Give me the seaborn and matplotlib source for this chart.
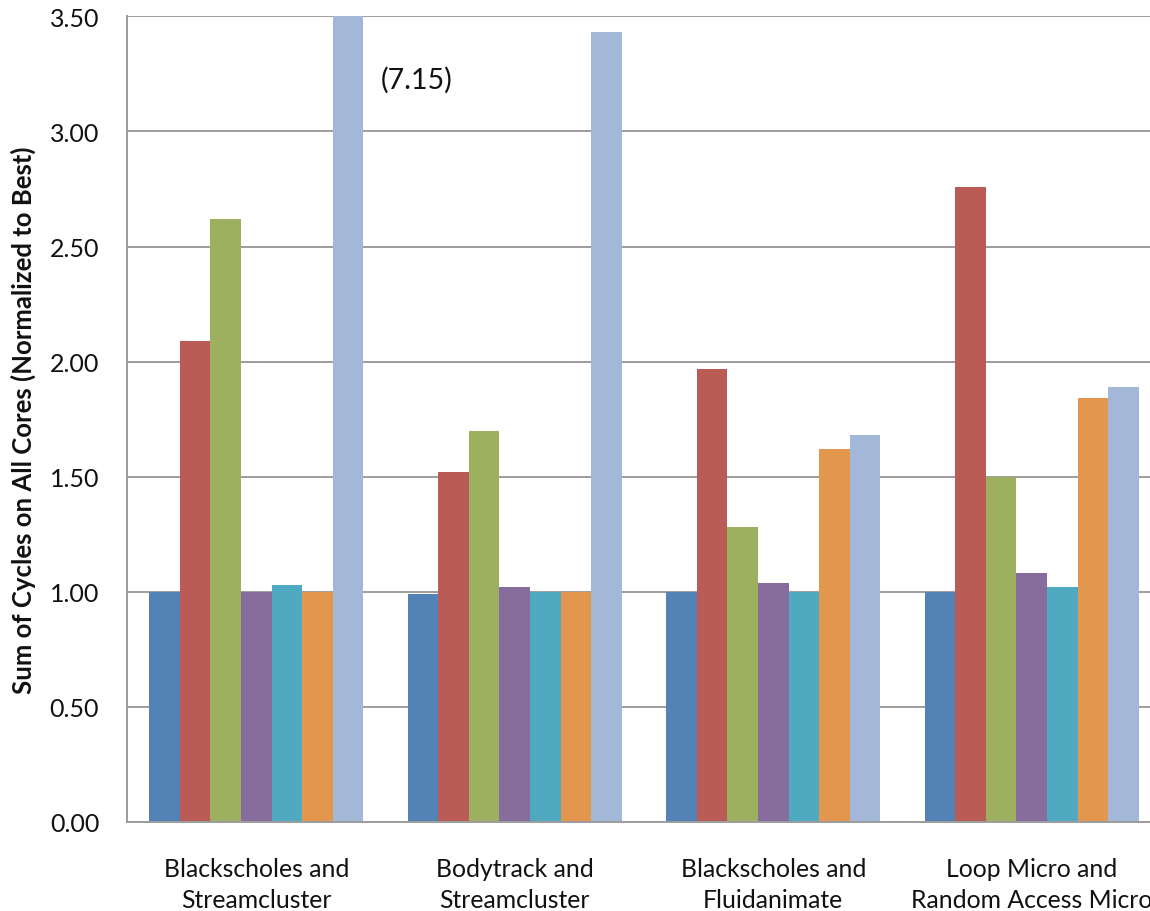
import numpy as np
import pandas as pd
import matplotlib
matplotlib.use("Agg")
import matplotlib.pyplot as plt
from matplotlib.ticker import FixedLocator, FormatStrFormatter
import seaborn as sns

# Workload pairs on the x axis
workloads = [
    "Blackscholes and\nStreamcluster",
    "Bodytrack and\nStreamcluster",
    "Blackscholes and\nFluidanimate",
    "Loop Micro and\nRandom Access Micro",
]

# Normalized cycle sums for each scheduling policy (one list per policy)
policy_1 = [1.00, 0.99, 1.00, 1.00]
policy_2 = [2.09, 1.52, 1.97, 2.76]
policy_3 = [2.62, 1.70, 1.28, 1.50]
policy_4 = [1.00, 1.02, 1.04, 1.08]
policy_5 = [1.03, 1.00, 1.00, 1.02]
policy_6 = [1.00, 1.00, 1.62, 1.84]
policy_7 = [7.15, 3.43, 1.68, 1.89]

policies = [policy_1, policy_2, policy_3, policy_4, policy_5, policy_6, policy_7]
policy_names = [f"policy_{i + 1}" for i in range(len(policies))]
colors = ["#5383B6", "#BB5B55", "#9DB05F", "#866D9D", "#4FA9C0", "#E2964E", "#A3B7D8"]

y_ticks = [0.0, 0.5, 1.0, 1.5, 2.0, 2.5, 3.0, 3.5]
y_max = 3.5

rows = []
for name, vals in zip(policy_names, policies):
    for w, v in zip(workloads, vals):
        rows.append({"workload": w, "policy": name, "value": v})
df = pd.DataFrame(rows)

sns.set_style("white")
plt.rcParams["font.family"] = ["Lato", "DejaVu Sans"]

fig = plt.figure(figsize=(11.5, 9.12), dpi=100)
ax = fig.add_axes([127 / 1150, 89 / 912, 1034 / 1150, 805.7 / 912])

sns.barplot(
    data=df, x="workload", y="value", hue="policy",
    order=workloads, hue_order=policy_names, palette=colors,
    width=0.826, saturation=1, errorbar=None, linewidth=0,
    legend=False, ax=ax,
)

ax.set_ylim(0, y_max)
ax.set_xlim(-0.5, len(workloads) - 0.5)
ax.yaxis.set_major_locator(FixedLocator(y_ticks))
ax.yaxis.set_major_formatter(FormatStrFormatter("%.2f"))

grid_color = "#9C9C9C"
ax.set_axisbelow(True)
ax.yaxis.grid(True, color=grid_color, linewidth=1.4)
ax.xaxis.grid(False)
for side in ["top", "right"]:
    ax.spines[side].set_visible(False)
for side in ["left", "bottom"]:
    ax.spines[side].set_color(grid_color)
    ax.spines[side].set_linewidth(1.4)

# Group separators as minor ticks on the category axis
ax.xaxis.set_minor_locator(FixedLocator(np.arange(-0.5, len(workloads), 1.0)))
ax.tick_params(axis="x", which="minor", length=7, width=1.4, color=grid_color, direction="out")
ax.tick_params(axis="x", which="major", length=0, pad=25, labelsize=17.8, labelcolor="#111111")
ax.tick_params(axis="y", which="major", length=7, width=1.4, color=grid_color,
               direction="out", pad=13, labelsize=18, labelcolor="#111111")
ax.tick_params(axis="y", which="minor", length=0)
ax.set_xlabel("")
ax.set_ylabel("Sum of Cycles on All Cores (Normalized to Best)", fontsize=18.5,
              fontweight="bold", color="#111111", labelpad=10)

for lbl in ax.get_xticklabels():
    lbl.set_linespacing(1.45)

# The tallest bar is clipped at the axis top; state its true value
ax.text(0.4826, 3.228, f"({policy_7[0]:.2f})", ha="left", va="center",
        fontsize=20.5, color="#111111")

fig.savefig("out.png", dpi=100)
